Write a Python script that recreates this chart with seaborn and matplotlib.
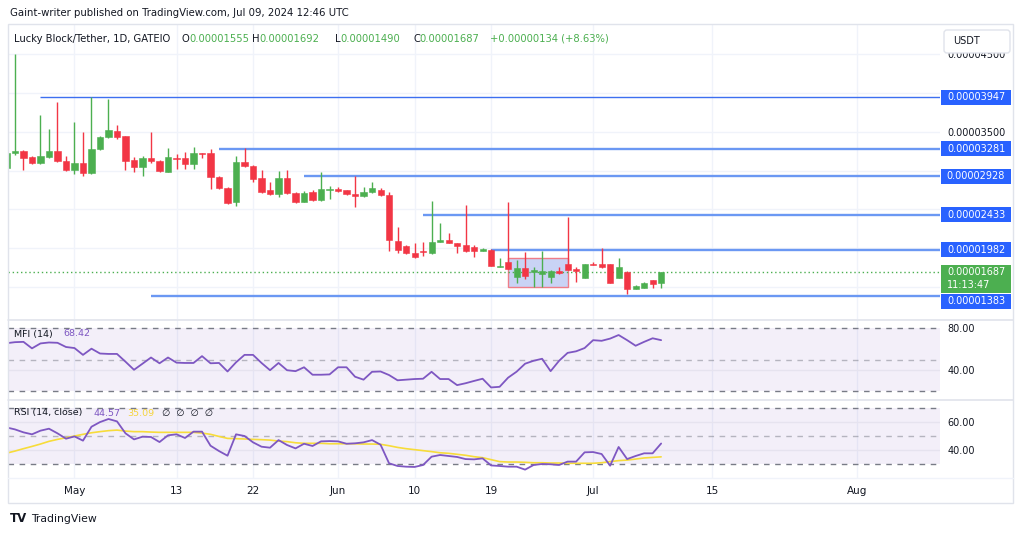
import numpy as np
import pandas as pd
import matplotlib
matplotlib.use("Agg")
import matplotlib.pyplot as plt
import matplotlib.dates as mdates
from matplotlib.patches import Rectangle, FancyBboxPatch
import seaborn as sns

# ---------------- data (prices in units of 1e-8 USDT) ----------------
START_DATE = "2024-04-23"
PRICE_UNIT = 1e-8
opens = [3030, 3226, 3252, 3174, 3097, 3174, 3252, 3123, 3007, 3097,
         2968, 3277, 3432, 3509, 3445, 3136, 3045, 3161, 3123, 2981,
         3161, 3161, 3084, 3226, 3226, 2916, 2775, 2595, 3110, 3058,
         2904, 2749, 2698, 2904, 2711, 2595, 2723, 2620, 2755, 2762,
         2749, 2698, 2672, 2723, 2749, 2685, 2092, 2028, 1938, 1963,
         1938, 2079, 2105, 2066, 2041, 2015, 1963, 1976, 1757, 1822,
         1629, 1745, 1693, 1667, 1629, 1706, 1796, 1732, 1616, 1796,
         1796, 1796, 1616, 1693, 1474, 1487, 1590, 1555]
highs = [3245, 4501, 3260, 3190, 3715, 3535, 3883, 3187, 3625, 3496,
         3947, 3445, 3922, 3586, 3445, 3174, 3187, 3496, 3136, 3290,
         3213, 3239, 3303, 3230, 3277, 2930, 2790, 3187, 3290, 3065,
         3007, 2852, 2994, 3007, 2720, 2736, 2749, 2981, 2801, 2788,
         2755, 2929, 2788, 2852, 2775, 2723, 2273, 2041, 2066, 2079,
         2607, 2324, 2195, 2070, 2556, 2041, 2002, 1985, 1873, 2595,
         1848, 1951, 1757, 1963, 1712, 1757, 2401, 1757, 1800, 1822,
         2002, 1800, 1873, 1700, 1520, 1560, 1595, 1692]
lows = [3020, 3200, 3007, 3085, 3090, 3161, 3110, 2995, 2955, 2929,
        2955, 3265, 3420, 3405, 3007, 2981, 2929, 3097, 2981, 2975,
        3020, 3020, 3020, 3161, 2762, 2765, 2570, 2543, 3050, 2852,
        2715, 2690, 2659, 2700, 2585, 2590, 2610, 2610, 2633, 2723,
        2690, 2530, 2665, 2715, 2678, 1963, 1938, 1930, 1873, 1899,
        1930, 2075, 2060, 1938, 1955, 1886, 1960, 1765, 1755, 1725,
        1551, 1603, 1500, 1500, 1551, 1667, 1712, 1564, 1610, 1780,
        1750, 1545, 1610, 1410, 1470, 1480, 1487, 1490]
closes = [3226, 3252, 3161, 3097, 3187, 3252, 3123, 3007, 3097, 2968,
          3277, 3432, 3522, 3432, 3123, 3045, 3161, 3123, 2994, 3174,
          3148, 3084, 3226, 3213, 2916, 2775, 2582, 3110, 3058, 2891,
          2723, 2698, 2904, 2711, 2595, 2711, 2620, 2762, 2765, 2736,
          2698, 2672, 2723, 2775, 2685, 2105, 1976, 1938, 1886, 1951,
          2079, 2105, 2066, 2028, 1963, 1963, 1989, 1770, 1770, 1732,
          1745, 1642, 1719, 1706, 1706, 1680, 1719, 1706, 1796, 1783,
          1757, 1551, 1757, 1474, 1513, 1551, 1539, 1687]

mfi = [65.5, 66.5, 66.8, 60.6, 65.3, 66.2, 65.9, 61.9, 60.9, 54.4,
       60.3, 55.7, 55.3, 55.3, 47.9, 40.2, 46.0, 51.9, 46.4, 51.9,
       47.0, 46.7, 46.7, 53.2, 46.4, 46.7, 38.6, 47.3, 54.4, 54.4,
       46.7, 39.8, 46.7, 39.8, 38.9, 42.6, 35.5, 35.5, 35.8, 42.6,
       42.6, 33.6, 30.8, 38.3, 38.6, 35.2, 30.2, 30.8, 31.4, 31.7,
       38.3, 31.4, 31.4, 25.6, 27.4, 29.6, 31.7, 23.4, 24.0, 32.7,
       38.4, 46.0, 48.8, 50.7, 38.9, 48.8, 56.3, 57.8, 60.9, 68.4,
       67.8, 69.9, 73.3, 68.4, 63.1, 66.8, 70.2, 68.42]
rsi = [56.0, 54.6, 52.5, 51.1, 53.7, 55.1, 51.8, 48.0, 49.6, 46.6,
       56.5, 59.8, 62.0, 60.3, 51.8, 47.5, 49.4, 49.2, 45.6, 50.4,
       51.1, 48.5, 53.0, 53.0, 43.0, 39.2, 35.9, 51.1, 49.9, 45.4,
       42.3, 41.6, 47.0, 43.5, 41.1, 44.4, 42.8, 46.1, 46.3, 46.1,
       44.4, 44.7, 45.4, 47.0, 43.7, 30.5, 28.6, 28.1, 27.9, 29.3,
       35.2, 36.4, 35.7, 35.0, 33.5, 33.3, 34.0, 29.0, 28.6, 28.1,
       28.1, 26.0, 29.3, 30.0, 29.8, 29.3, 31.7, 31.7, 38.3, 38.5,
       37.1, 28.8, 42.1, 33.5, 35.7, 37.6, 37.6, 44.57]
rsi_ma = [37.7, 39.2, 40.9, 42.5, 44.2, 46.1, 47.5, 48.7, 49.9, 51.1,
          52.2, 53.0, 53.7, 54.1, 53.4, 53.0, 53.0, 52.7, 52.5, 52.5,
          52.5, 52.5, 52.5, 52.0, 51.1, 49.6, 48.2, 48.0, 47.8, 47.5,
          47.3, 47.0, 46.3, 45.9, 45.1, 44.7, 44.7, 44.7, 44.4, 44.4,
          44.4, 44.4, 44.2, 44.2, 44.0, 43.0, 41.8, 40.9, 40.2, 39.5,
          38.8, 38.0, 37.6, 36.9, 36.2, 35.2, 34.5, 33.1, 31.7, 31.4,
          31.4, 31.2, 30.9, 30.9, 30.7, 30.7, 30.5, 30.5, 30.5, 30.5,
          30.9, 31.7, 32.4, 32.8, 33.5, 34.3, 34.7, 35.09]

level_values = [3947, 3281, 2928, 2433, 1982, 1383]
level_starts = ["2024-04-27", "2024-05-18", "2024-05-28", "2024-06-11",
                "2024-06-19", "2024-05-10"]
range_box_dates = ["2024-06-21", "2024-06-28"]
range_box_prices = [1500, 1873]
last_price = 1687
countdown = "11:13:47"
price_ticks = [1500, 2000, 2500, 3000, 3500, 4000, 4500]
time_tick_dates = ["2024-05-01", "2024-05-13", "2024-05-22", "2024-06-01",
                   "2024-06-10", "2024-06-19", "2024-07-01", "2024-07-15",
                   "2024-08-01"]
time_tick_labels = ["May", "13", "22", "Jun", "10", "19", "Jul", "15", "Aug"]
header = "Gaint-writer published on TradingView.com, Jul 09, 2024 12:46 UTC"
symbol_title = "Lucky Block/Tether, 1D, GATEIO"
ohlc_labels = ["O", "H", "L", "C"]
change_text = "+0.00000134 (+8.63%)"

# ---------------- style ----------------
UP, DOWN = "#4caf50", "#f23645"
PURPLE, YELLOW = "#7e57c2", "#f7dc3a"
TXT, GRID, FRAME, BLUE = "#131722", "#f0f3fa", "#e0e3eb", "#2962ff"

sns.set_theme(style="white")
plt.rcParams["font.family"] = ["DejaVu Sans"]

W, H = 1024, 536
fig = plt.figure(figsize=(W / 100, H / 100), dpi=100)
fig.patch.set_facecolor("white")


def rect(left, top, right, bottom):
    return [left / W, 1 - bottom / H, (right - left) / W, (bottom - top) / H]


ax_p = fig.add_axes(rect(8, 24, 940, 319))
ax_m = fig.add_axes(rect(8, 320, 940, 399), sharex=ax_p)
ax_r = fig.add_axes(rect(8, 400, 940, 478), sharex=ax_p)

dates = pd.date_range(START_DATE, periods=len(opens), freq="D")
x = mdates.date2num(dates)
x0 = mdates.date2num(pd.Timestamp(START_DATE))
xlim = (x0 + 0.18, x0 + 109.8)
tick_x = mdates.date2num(pd.to_datetime(time_tick_dates))

for ax in (ax_p, ax_m, ax_r):
    ax.set_facecolor("white")
    for s in ax.spines.values():
        s.set_visible(False)
    for t in tick_x:
        ax.axvline(t, color=GRID, lw=1, zorder=0)
    ax.grid(False)

# ---------------- price pane ----------------
o, h, l, c = map(np.array, (opens, highs, lows, closes))
cols = np.where(c >= o, UP, DOWN)
ax_p.vlines(x, l, h, colors=cols, lw=1, zorder=3)
ax_p.bar(x, np.maximum(np.abs(c - o), 13), bottom=np.minimum(o, c), width=0.72,
         color=cols, edgecolor=cols, lw=0.4, zorder=4)

for t in price_ticks:
    ax_p.axhline(t, color=GRID, lw=1, zorder=0)

xs, xe = mdates.date2num(pd.to_datetime(range_box_dates))
ax_p.add_patch(Rectangle((xs, range_box_prices[0]), xe - xs,
                         range_box_prices[1] - range_box_prices[0],
                         facecolor="#c9d3f5", edgecolor="#ef7d88", lw=1, zorder=2))

for v, s in zip(level_values, level_starts):
    sx = mdates.date2num(pd.Timestamp(s))
    top = v == max(level_values)
    ax_p.hlines(v, sx, xlim[1], color="#3d6ff0" if top else "#6b98f3",
                lw=1.0 if top else 1.7, zorder=2)

ax_p.axhline(last_price, color=UP, lw=1, ls=(0, (1, 2)), zorder=2)

ax_p.set_xlim(*xlim)
ax_p.set_ylim(1087, 4888)
ax_p.yaxis.tick_right()
ax_p.set_yticks(price_ticks)
ax_p.set_yticklabels([f"{t * PRICE_UNIT:.8f}" for t in price_ticks])
ax_p.tick_params(axis="y", length=0, pad=5.5, labelsize=7, labelcolor=TXT)
ax_p.tick_params(axis="x", length=0, labelbottom=False)

# ---------------- MFI pane ----------------
ax_m.fill_between(xlim, 20, 80, color=PURPLE, alpha=0.09, lw=0, zorder=0)
ax_m.axhline(40, color="#e6e3ef", lw=1, zorder=1)
for lvl, a in ((80, 1.0), (50, 0.5), (20, 1.0)):
    ax_m.axhline(lvl, color="#787b86", alpha=a, lw=1, ls=(0, (4, 4)), zorder=1)
sns.lineplot(x=x, y=mfi, ax=ax_m, color=PURPLE, lw=1.3, legend=False, zorder=3)
ax_m.set_ylim(12.4, 87.6)
ax_m.yaxis.tick_right()
ax_m.set_yticks([40, 80])
ax_m.set_yticklabels(["40.00", "80.00"])
ax_m.tick_params(axis="y", length=0, pad=5.5, labelsize=7, labelcolor=TXT)
ax_m.tick_params(axis="x", length=0, labelbottom=False)
ax_m.set_xlabel("")
ax_m.set_ylabel("")

# ---------------- RSI pane ----------------
ax_r.fill_between(xlim, 30, 70, color=PURPLE, alpha=0.09, lw=0, zorder=0)
for lvl in (60, 40):
    ax_r.axhline(lvl, color="#e6e3ef", lw=1, zorder=1)
for lvl, a in ((70, 1.0), (50, 0.5), (30, 1.0)):
    ax_r.axhline(lvl, color="#787b86", alpha=a, lw=1, ls=(0, (4, 4)), zorder=1)
sns.lineplot(x=x, y=rsi_ma, ax=ax_r, color=YELLOW, lw=1.2, legend=False, zorder=3)
sns.lineplot(x=x, y=rsi, ax=ax_r, color=PURPLE, lw=1.3, legend=False, zorder=4)
ax_r.set_ylim(20.05, 75.5)
ax_r.yaxis.tick_right()
ax_r.set_yticks([40, 60])
ax_r.set_yticklabels(["40.00", "60.00"])
ax_r.tick_params(axis="y", length=0, pad=5.5, labelsize=7, labelcolor=TXT)
ax_r.set_xticks(tick_x)
ax_r.set_xticklabels(time_tick_labels)
ax_r.tick_params(axis="x", length=0, pad=6, labelsize=7.5, labelcolor=TXT)
ax_r.set_xlabel("")
ax_r.set_ylabel("")
ax_r.set_xlim(*xlim)

# ---------------- overlay (frame, price-scale labels, texts) ----------------
ax_o = fig.add_axes([0, 0, 1, 1], zorder=20)
ax_o.set_xlim(0, W)
ax_o.set_ylim(H, 0)
ax_o.axis("off")
ax_o.patch.set_visible(False)

ax_o.add_patch(Rectangle((8, 24), 1005, 479, fill=False, edgecolor=FRAME, lw=1))
for yy in (320, 399.5):
    ax_o.plot([8, 1013], [yy, yy], color=FRAME, lw=1.2)
ax_o.plot([8, 1013], [478, 478], color="#f0f3fa", lw=1)


def to_px(v):
    return H - ax_p.transData.transform((xlim[0], v))[1]


cy_last = to_px(last_price)
green_bottom = cy_last + 20.5
occupied = [(cy_last - 7.5, green_bottom)]
for v in level_values:
    cy = to_px(v)
    if cy > cy_last - 15 and cy < green_bottom + 8:
        cy = green_bottom + 8.5
    occupied.append((cy - 7.5, cy + 7.5))
    ax_o.add_patch(Rectangle((941, cy - 7.5), 70, 15, color=BLUE, lw=0))
    ax_o.text(976, cy, f"{v * PRICE_UNIT:.8f}", color="white", ha="center",
              va="center", fontsize=7)
ax_o.add_patch(Rectangle((941, cy_last - 7.5), 70, 28, color=UP, lw=0))
ax_o.text(976, cy_last, f"{last_price * PRICE_UNIT:.8f}", color="white",
          ha="center", va="center", fontsize=7)
ax_o.text(947, cy_last + 13, countdown, color="white", ha="left",
          va="center", fontsize=7)

# price-scale tick labels hidden under the coloured price labels
for t, lab in zip(price_ticks, ax_p.get_yticklabels()):
    ty = to_px(t)
    if any(a - 6 < ty < b + 6 for a, b in occupied):
        lab.set_visible(False)

ax_o.add_patch(FancyBboxPatch((944, 30), 66, 23,
                              boxstyle="round,pad=0,rounding_size=3",
                              facecolor="white", edgecolor=FRAME, lw=1))
ax_o.text(953, 41.5, "USDT", color=TXT, fontsize=7, va="center")

ax_o.text(10, 13, header, color=TXT, fontsize=7.3, va="center")

ax_o.text(14, 38.5, symbol_title, color=TXT, fontsize=7.2, va="center")
ohlc_vals = [opens[-1], highs[-1], lows[-1], closes[-1]]
for lab, val, px in zip(ohlc_labels, ohlc_vals, [182, 252, 335, 413]):
    t = ax_o.text(px, 38.5, lab, color=TXT, fontsize=7.2, va="center")
    ax_o.annotate(f"{val * PRICE_UNIT:.8f}", xy=(1, 0.5), xycoords=t,
                  va="center", ha="left", color=UP, fontsize=7.2)
ax_o.text(490, 38.5, change_text, color=UP, fontsize=7.2, va="center")

ax_o.text(14, 334, "MFI (14)", color=TXT, fontsize=6.8, va="center")
ax_o.text(63, 334, f"{mfi[-1]:.2f}", color=PURPLE, fontsize=6.8, va="center")
ax_o.text(14, 413, "RSI (14, close)", color=TXT, fontsize=6.8, va="center")
ax_o.text(93, 413, f"{rsi[-1]:.2f}", color=PURPLE, fontsize=6.8, va="center")
ax_o.text(127, 413, f"{rsi_ma[-1]:.2f}", color="#f5d43b", fontsize=6.8, va="center")
ax_o.text(162, 413, "\u2205  \u2205  \u2205  \u2205", color=TXT, fontsize=6.8, va="center")

ax_o.text(10, 519, "TV", color=TXT, fontsize=8.5, fontweight="heavy", va="center")
ax_o.text(31, 519, "TradingView", color=TXT, fontsize=7.8, va="center")

fig.savefig("out.png", dpi=100, facecolor="white")
